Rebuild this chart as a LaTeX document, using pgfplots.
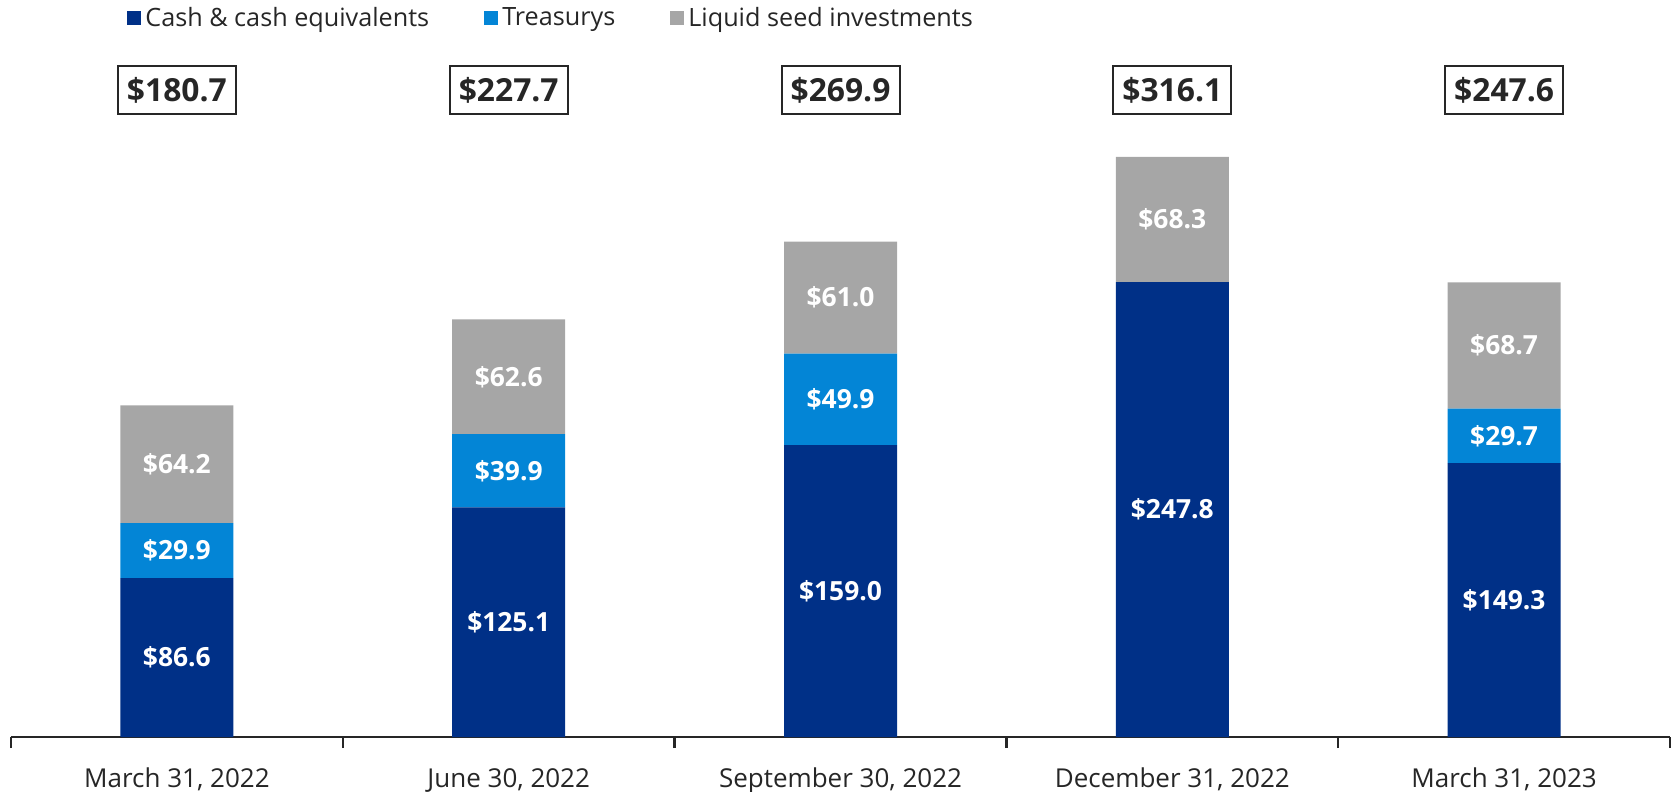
\documentclass[border=0pt]{standalone}
\usepackage{pgfplots}
\pgfplotsset{compat=1.18}
\usepackage{fontspec}
\setmainfont{Open Sans}
\definecolor{cashblue}{RGB}{0,48,135}
\definecolor{treasblue}{RGB}{3,133,214}
\definecolor{seedgray}{RGB}{166,166,166}
\definecolor{textgray}{RGB}{38,38,38}
\definecolor{axgray}{RGB}{38,38,38}
\begin{document}
\begin{tikzpicture}
\begin{axis}[
  scale only axis,
  width=829.5pt, height=368.5pt,
  xmin=-0.5, xmax=4.5, ymin=0, ymax=401.6,
  ybar stacked, bar width=56.5pt,
  clip=false,
  axis x line*=bottom, axis y line=none,
  axis line style={line width=1.2pt, color=axgray},
  xtick={0,1,2,3,4},
  xticklabels={{March 31, 2022}, {June 30, 2022}, {September 30, 2022}, {December 31, 2022}, {March 31, 2023}},
  major tick length=0pt,
  extra x ticks={-0.5,0.5,1.5,2.5,3.5,4.5},
  extra x tick labels={},
  extra x tick style={major tick length=5.5pt, tick align=outside, tick style={line width=1.2pt, color=axgray}},
  xticklabel style={font=\fontsize{13}{15}\selectfont, text=textgray, anchor=base, yshift=-25pt},
  point meta=explicit symbolic,
  nodes near coords,
  every node near coord/.append style={anchor=center, text=white, font=\bfseries\fontsize{13.2}{15}\selectfont},
  legend image code/.code={\path[#1,draw=none] (0pt,-3.5pt) rectangle (7pt,3.5pt);},
  legend style={at={(0.0699,0.9756)}, anchor=west, draw=none, fill=none, inner sep=0pt,
    legend columns=3, font=\fontsize{12.6}{15}\selectfont, text=textgray,
    /tikz/every even column/.append style={column sep=25.5pt}},
]
\addplot[fill=cashblue, draw=none] coordinates {(0,86.6) [\$86.6] (1,125.1) [\$125.1] (2,159.0) [\$159.0] (3,247.8) [\$247.8] (4,149.3) [\$149.3]};
\addplot[fill=treasblue, draw=none] coordinates {(0,29.9) [\$29.9] (1,39.9) [\$39.9] (2,49.9) [\$49.9] (3,0) [{}] (4,29.7) [\$29.7]};
\addplot[fill=seedgray, draw=none] coordinates {(0,64.2) [\$64.2] (1,62.6) [\$62.6] (2,61.0) [\$61.0] (3,68.3) [\$68.3] (4,68.7) [\$68.7]};
\legend{Cash \& cash equivalents, Treasurys, Liquid seed investments}
\tikzset{tot/.style={draw=axgray, line width=1pt, minimum width=59pt, minimum height=24pt, inner sep=0pt, text=textgray, font=\bfseries\fontsize{15.9}{18}\selectfont}}
\node[tot] at (axis cs:0,352.6) {\$180.7};
\node[tot] at (axis cs:1,352.6) {\$227.7};
\node[tot] at (axis cs:2,352.6) {\$269.9};
\node[tot] at (axis cs:3,352.6) {\$316.1};
\node[tot] at (axis cs:4,352.6) {\$247.6};
\end{axis}
\pgfresetboundingbox
\path ([shift={(-5.5pt,-27.5pt)}]current axis.south west) rectangle ([shift={(3pt,0pt)}]current axis.north east);
\end{tikzpicture}
\end{document}
